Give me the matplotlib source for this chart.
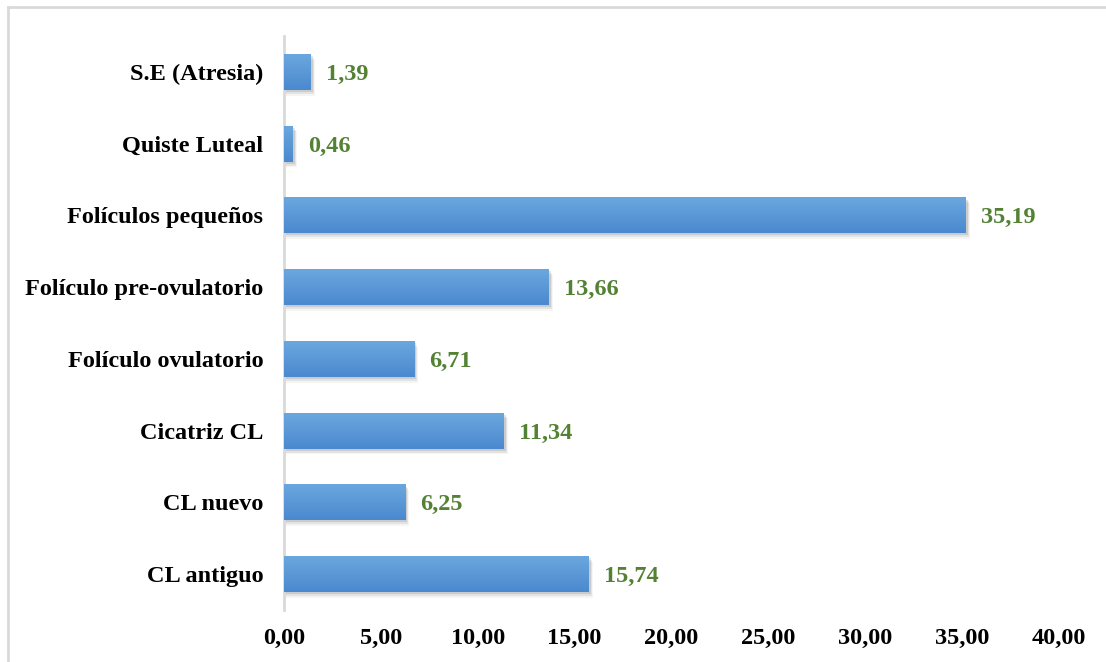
import matplotlib
matplotlib.use("Agg")
import matplotlib.pyplot as plt
import numpy as np
from matplotlib.colors import LinearSegmentedColormap
from matplotlib.lines import Line2D
from matplotlib.patches import Rectangle

categories = [
    "CL antiguo",
    "CL nuevo",
    "Cicatriz CL",
    "Folículo ovulatorio",
    "Folículo pre-ovulatorio",
    "Folículos pequeños",
    "Quiste Luteal",
    "S.E (Atresia)",
]
values = [15.74, 6.25, 11.34, 6.71, 13.66, 35.19, 0.46, 1.39]
value_labels = ["15,74", "6,25", "11,34", "6,71", "13,66", "35,19", "0,46", "1,39"]
x_ticks = [0, 5, 10, 15, 20, 25, 30, 35, 40]
x_tick_labels = ["0,00", "5,00", "10,00", "15,00", "20,00", "25,00", "30,00", "35,00", "40,00"]

plt.rcParams["font.family"] = ["Liberation Serif", "DejaVu Serif"]
font_size = 17.5

fig = plt.figure(figsize=(11.06, 6.62), dpi=100)
ax = fig.add_axes([284 / 1106, 52 / 662, (1059 - 284) / 1106, (626 - 52) / 662])

bar_height = 0.5
gradient = LinearSegmentedColormap.from_list("bar", ["#4a89cf", "#6ba7de"])
grad = np.linspace(0, 1, 64).reshape(-1, 1)

for i, v in enumerate(values):
    # soft shadow
    for k, alpha in enumerate([0.10, 0.07, 0.04]):
        shadow = Rectangle((0, i - bar_height / 2 - 0.03 - k * 0.025), v + 0.12 + k * 0.05,
                           bar_height, facecolor="#000000", alpha=alpha,
                           edgecolor="none", zorder=1)
        ax.add_patch(shadow)
    bar = Rectangle((0, i - bar_height / 2), v, bar_height,
                    facecolor="#5b9bd5", edgecolor="none", zorder=2)
    ax.add_patch(bar)
    img = ax.imshow(grad, cmap=gradient, aspect="auto",
                    extent=(0, v, i - bar_height / 2, i + bar_height / 2),
                    origin="lower", zorder=3)
    img.set_clip_path(bar)
    ax.text(v + 0.8, i, value_labels[i], va="center_baseline", ha="left",
            fontsize=font_size, fontweight="bold", color="#548235", zorder=4)

ax.set_xlim(0, 40)
ax.set_ylim(-0.5, len(categories) - 0.5)
ax.set_yticks(range(len(categories)))
ax.set_yticklabels(categories, fontsize=font_size, fontweight="bold")
ax.set_xticks(x_ticks)
ax.set_xticklabels(x_tick_labels, fontsize=font_size, fontweight="bold")
ax.tick_params(axis="both", length=0)
ax.tick_params(axis="y", pad=15)
ax.tick_params(axis="x", pad=13)

for side in ["top", "right", "bottom"]:
    ax.spines[side].set_visible(False)
ax.spines["left"].set_color("#d9d9d9")
ax.spines["left"].set_linewidth(2)

# outer chart border (only top and left visible in the frame)
fig.add_artist(Line2D([8 / 1106, 1], [1 - 7 / 662, 1 - 7 / 662],
                      transform=fig.transFigure, color="#d9d9d9", linewidth=2))
fig.add_artist(Line2D([8 / 1106, 8 / 1106], [0, 1 - 7 / 662],
                      transform=fig.transFigure, color="#d9d9d9", linewidth=2))

fig.savefig("out.png", dpi=100)
